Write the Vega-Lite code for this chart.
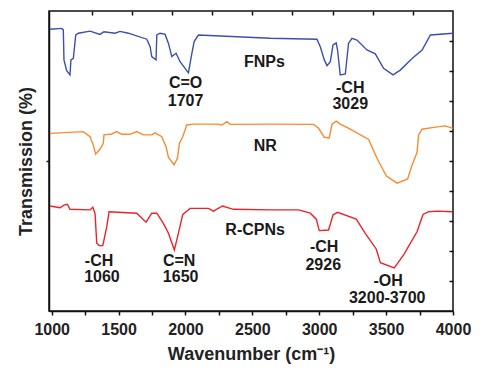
{
  "$schema": "https://vega.github.io/schema/vega-lite/v6.json",
  "width": 404,
  "height": 300,
  "autosize": "none",
  "padding": {"left": 49, "top": 11, "right": 47, "bottom": 69},
  "config": {
    "view": {"stroke": "#111", "strokeWidth": 1.5},
    "font": "Liberation Sans",
    "axis": {"grid": false, "domainColor": "#111", "domainWidth": 1.5, "tickColor": "#111", "tickWidth": 1.5, "labelColor": "#222", "titleColor": "#222", "labelFont": "Liberation Sans", "titleFont": "Liberation Sans"}
  },
  "datasets": {
    "spectra": [
      {"sample": "FNPs", "wavenumber": 987, "transmission": 9.39},
      {"sample": "FNPs", "wavenumber": 1075, "transmission": 9.42},
      {"sample": "FNPs", "wavenumber": 1087, "transmission": 9.37},
      {"sample": "FNPs", "wavenumber": 1092, "transmission": 8.37},
      {"sample": "FNPs", "wavenumber": 1112, "transmission": 8.01},
      {"sample": "FNPs", "wavenumber": 1137, "transmission": 7.87},
      {"sample": "FNPs", "wavenumber": 1144, "transmission": 8.37},
      {"sample": "FNPs", "wavenumber": 1162, "transmission": 8.42},
      {"sample": "FNPs", "wavenumber": 1180, "transmission": 9.2},
      {"sample": "FNPs", "wavenumber": 1199, "transmission": 9.26},
      {"sample": "FNPs", "wavenumber": 1287, "transmission": 9.33},
      {"sample": "FNPs", "wavenumber": 1361, "transmission": 9.22},
      {"sample": "FNPs", "wavenumber": 1391, "transmission": 9.31},
      {"sample": "FNPs", "wavenumber": 1474, "transmission": 9.26},
      {"sample": "FNPs", "wavenumber": 1511, "transmission": 9.32},
      {"sample": "FNPs", "wavenumber": 1573, "transmission": 9.26},
      {"sample": "FNPs", "wavenumber": 1711, "transmission": 9.06},
      {"sample": "FNPs", "wavenumber": 1736, "transmission": 8.81},
      {"sample": "FNPs", "wavenumber": 1748, "transmission": 8.48},
      {"sample": "FNPs", "wavenumber": 1780, "transmission": 8.37},
      {"sample": "FNPs", "wavenumber": 1786, "transmission": 9.2},
      {"sample": "FNPs", "wavenumber": 1810, "transmission": 9.26},
      {"sample": "FNPs", "wavenumber": 1848, "transmission": 9.22},
      {"sample": "FNPs", "wavenumber": 1873, "transmission": 8.92},
      {"sample": "FNPs", "wavenumber": 1898, "transmission": 8.48},
      {"sample": "FNPs", "wavenumber": 1930, "transmission": 8.59},
      {"sample": "FNPs", "wavenumber": 1960, "transmission": 8.31},
      {"sample": "FNPs", "wavenumber": 2022, "transmission": 7.94},
      {"sample": "FNPs", "wavenumber": 2048, "transmission": 8.59},
      {"sample": "FNPs", "wavenumber": 2065, "transmission": 8.98},
      {"sample": "FNPs", "wavenumber": 2097, "transmission": 9.2},
      {"sample": "FNPs", "wavenumber": 2634, "transmission": 9.09},
      {"sample": "FNPs", "wavenumber": 2983, "transmission": 9.06},
      {"sample": "FNPs", "wavenumber": 3008, "transmission": 8.81},
      {"sample": "FNPs", "wavenumber": 3038, "transmission": 8.37},
      {"sample": "FNPs", "wavenumber": 3058, "transmission": 8.18},
      {"sample": "FNPs", "wavenumber": 3083, "transmission": 8.31},
      {"sample": "FNPs", "wavenumber": 3103, "transmission": 8.87},
      {"sample": "FNPs", "wavenumber": 3127, "transmission": 8.94},
      {"sample": "FNPs", "wavenumber": 3137, "transmission": 8.7},
      {"sample": "FNPs", "wavenumber": 3157, "transmission": 7.87},
      {"sample": "FNPs", "wavenumber": 3195, "transmission": 7.9},
      {"sample": "FNPs", "wavenumber": 3219, "transmission": 8.92},
      {"sample": "FNPs", "wavenumber": 3245, "transmission": 9.09},
      {"sample": "FNPs", "wavenumber": 3282, "transmission": 9.03},
      {"sample": "FNPs", "wavenumber": 3357, "transmission": 8.7},
      {"sample": "FNPs", "wavenumber": 3419, "transmission": 8.57},
      {"sample": "FNPs", "wavenumber": 3481, "transmission": 8.09},
      {"sample": "FNPs", "wavenumber": 3552, "transmission": 7.87},
      {"sample": "FNPs", "wavenumber": 3606, "transmission": 8.03},
      {"sample": "FNPs", "wavenumber": 3694, "transmission": 8.42},
      {"sample": "FNPs", "wavenumber": 3769, "transmission": 8.7},
      {"sample": "FNPs", "wavenumber": 3831, "transmission": 9.2},
      {"sample": "FNPs", "wavenumber": 4000, "transmission": 9.26},
      {"sample": "NR", "wavenumber": 987, "transmission": 5.92},
      {"sample": "NR", "wavenumber": 1236, "transmission": 5.98},
      {"sample": "NR", "wavenumber": 1287, "transmission": 5.81},
      {"sample": "NR", "wavenumber": 1311, "transmission": 5.53},
      {"sample": "NR", "wavenumber": 1329, "transmission": 5.23},
      {"sample": "NR", "wavenumber": 1361, "transmission": 5.39},
      {"sample": "NR", "wavenumber": 1386, "transmission": 5.59},
      {"sample": "NR", "wavenumber": 1391, "transmission": 5.87},
      {"sample": "NR", "wavenumber": 1449, "transmission": 5.9},
      {"sample": "NR", "wavenumber": 1486, "transmission": 5.98},
      {"sample": "NR", "wavenumber": 1524, "transmission": 5.89},
      {"sample": "NR", "wavenumber": 1586, "transmission": 5.89},
      {"sample": "NR", "wavenumber": 1636, "transmission": 5.98},
      {"sample": "NR", "wavenumber": 1685, "transmission": 5.87},
      {"sample": "NR", "wavenumber": 1748, "transmission": 5.87},
      {"sample": "NR", "wavenumber": 1773, "transmission": 5.94},
      {"sample": "NR", "wavenumber": 1823, "transmission": 5.81},
      {"sample": "NR", "wavenumber": 1855, "transmission": 5.48},
      {"sample": "NR", "wavenumber": 1873, "transmission": 5.12},
      {"sample": "NR", "wavenumber": 1915, "transmission": 4.87},
      {"sample": "NR", "wavenumber": 1940, "transmission": 5.09},
      {"sample": "NR", "wavenumber": 1955, "transmission": 5.59},
      {"sample": "NR", "wavenumber": 1980, "transmission": 5.81},
      {"sample": "NR", "wavenumber": 2010, "transmission": 6.2},
      {"sample": "NR", "wavenumber": 2060, "transmission": 6.23},
      {"sample": "NR", "wavenumber": 2235, "transmission": 6.23},
      {"sample": "NR", "wavenumber": 2272, "transmission": 6.2},
      {"sample": "NR", "wavenumber": 2310, "transmission": 6.31},
      {"sample": "NR", "wavenumber": 2334, "transmission": 6.22},
      {"sample": "NR", "wavenumber": 2634, "transmission": 6.23},
      {"sample": "NR", "wavenumber": 2958, "transmission": 6.22},
      {"sample": "NR", "wavenumber": 2995, "transmission": 6.09},
      {"sample": "NR", "wavenumber": 3038, "transmission": 5.79},
      {"sample": "NR", "wavenumber": 3075, "transmission": 5.77},
      {"sample": "NR", "wavenumber": 3095, "transmission": 6.23},
      {"sample": "NR", "wavenumber": 3127, "transmission": 6.33},
      {"sample": "NR", "wavenumber": 3157, "transmission": 6.23},
      {"sample": "NR", "wavenumber": 3232, "transmission": 6.06},
      {"sample": "NR", "wavenumber": 3369, "transmission": 5.72},
      {"sample": "NR", "wavenumber": 3432, "transmission": 5.09},
      {"sample": "NR", "wavenumber": 3502, "transmission": 4.5},
      {"sample": "NR", "wavenumber": 3582, "transmission": 4.26},
      {"sample": "NR", "wavenumber": 3661, "transmission": 4.4},
      {"sample": "NR", "wavenumber": 3694, "transmission": 4.87},
      {"sample": "NR", "wavenumber": 3731, "transmission": 5.28},
      {"sample": "NR", "wavenumber": 3743, "transmission": 5.87},
      {"sample": "NR", "wavenumber": 3769, "transmission": 6.06},
      {"sample": "NR", "wavenumber": 3856, "transmission": 6.12},
      {"sample": "NR", "wavenumber": 3943, "transmission": 6.17},
      {"sample": "NR", "wavenumber": 4000, "transmission": 6.09},
      {"sample": "R-CPNs", "wavenumber": 987, "transmission": 3.5},
      {"sample": "R-CPNs", "wavenumber": 1062, "transmission": 3.44},
      {"sample": "R-CPNs", "wavenumber": 1092, "transmission": 3.53},
      {"sample": "R-CPNs", "wavenumber": 1117, "transmission": 3.56},
      {"sample": "R-CPNs", "wavenumber": 1137, "transmission": 3.39},
      {"sample": "R-CPNs", "wavenumber": 1287, "transmission": 3.37},
      {"sample": "R-CPNs", "wavenumber": 1307, "transmission": 3.46},
      {"sample": "R-CPNs", "wavenumber": 1324, "transmission": 3.26},
      {"sample": "R-CPNs", "wavenumber": 1337, "transmission": 2.26},
      {"sample": "R-CPNs", "wavenumber": 1356, "transmission": 2.18},
      {"sample": "R-CPNs", "wavenumber": 1382, "transmission": 2.18},
      {"sample": "R-CPNs", "wavenumber": 1412, "transmission": 2.81},
      {"sample": "R-CPNs", "wavenumber": 1429, "transmission": 3.31},
      {"sample": "R-CPNs", "wavenumber": 1636, "transmission": 3.26},
      {"sample": "R-CPNs", "wavenumber": 1706, "transmission": 2.96},
      {"sample": "R-CPNs", "wavenumber": 1748, "transmission": 3.26},
      {"sample": "R-CPNs", "wavenumber": 1786, "transmission": 3.26},
      {"sample": "R-CPNs", "wavenumber": 1835, "transmission": 2.92},
      {"sample": "R-CPNs", "wavenumber": 1873, "transmission": 2.59},
      {"sample": "R-CPNs", "wavenumber": 1917, "transmission": 2.03},
      {"sample": "R-CPNs", "wavenumber": 1947, "transmission": 2.59},
      {"sample": "R-CPNs", "wavenumber": 1980, "transmission": 3.22},
      {"sample": "R-CPNs", "wavenumber": 2035, "transmission": 3.42},
      {"sample": "R-CPNs", "wavenumber": 2172, "transmission": 3.42},
      {"sample": "R-CPNs", "wavenumber": 2209, "transmission": 3.33},
      {"sample": "R-CPNs", "wavenumber": 2277, "transmission": 3.5},
      {"sample": "R-CPNs", "wavenumber": 2359, "transmission": 3.39},
      {"sample": "R-CPNs", "wavenumber": 2634, "transmission": 3.37},
      {"sample": "R-CPNs", "wavenumber": 2845, "transmission": 3.37},
      {"sample": "R-CPNs", "wavenumber": 2933, "transmission": 3.26},
      {"sample": "R-CPNs", "wavenumber": 2978, "transmission": 3.06},
      {"sample": "R-CPNs", "wavenumber": 3000, "transmission": 2.68},
      {"sample": "R-CPNs", "wavenumber": 3070, "transmission": 2.7},
      {"sample": "R-CPNs", "wavenumber": 3103, "transmission": 3.2},
      {"sample": "R-CPNs", "wavenumber": 3137, "transmission": 3.29},
      {"sample": "R-CPNs", "wavenumber": 3277, "transmission": 3.06},
      {"sample": "R-CPNs", "wavenumber": 3344, "transmission": 2.59},
      {"sample": "R-CPNs", "wavenumber": 3427, "transmission": 2.06},
      {"sample": "R-CPNs", "wavenumber": 3457, "transmission": 1.61},
      {"sample": "R-CPNs", "wavenumber": 3561, "transmission": 1.44},
      {"sample": "R-CPNs", "wavenumber": 3631, "transmission": 1.87},
      {"sample": "R-CPNs", "wavenumber": 3731, "transmission": 2.64},
      {"sample": "R-CPNs", "wavenumber": 3776, "transmission": 3.22},
      {"sample": "R-CPNs", "wavenumber": 3818, "transmission": 3.31},
      {"sample": "R-CPNs", "wavenumber": 3881, "transmission": 3.33},
      {"sample": "R-CPNs", "wavenumber": 3993, "transmission": 3.31}
    ],
    "labels": [
      {"text": "FNPs", "x": 2590, "y": 8.14},
      {"text": "NR", "x": 2596, "y": 5.34},
      {"text": "R-CPNs", "x": 2521, "y": 2.53},
      {"text": "C=O", "x": 2001, "y": 7.42},
      {"text": "1707", "x": 2001, "y": 6.83},
      {"text": "-CH", "x": 3232, "y": 7.26},
      {"text": "3029", "x": 3232, "y": 6.73},
      {"text": "-CH", "x": 1354, "y": 1.5},
      {"text": "1060", "x": 1376, "y": 0.98},
      {"text": "C=N", "x": 1953, "y": 1.5},
      {"text": "1650", "x": 1964, "y": 0.98},
      {"text": "-CH", "x": 3037, "y": 1.96},
      {"text": "2926", "x": 3030, "y": 1.37},
      {"text": "-OH", "x": 3515, "y": 0.83},
      {"text": "3200-3700", "x": 3508, "y": 0.28}
    ]
  },
  "layer": [
    {
      "data": {"name": "spectra"},
      "mark": {"type": "line", "strokeWidth": 1.4},
      "encoding": {
        "x": {
          "field": "wavenumber", "type": "quantitative",
          "scale": {"domain": [980, 4000], "nice": false, "zero": false},
          "axis": {
            "orient": "bottom",
            "values": [1000, 1250, 1500, 1750, 2000, 2250, 2500, 2750, 3000, 3250, 3500, 3750, 4000],
            "format": "d",
            "labelExpr": "datum.value % 500 === 0 ? datum.label : ''",
            "labelOverlap": false, "labelFlush": false,
            "tickSize": 4, "labelPadding": 6,
            "labelFontSize": 16, "labelFontWeight": "bold",
            "title": "Wavenumber (cm⁻¹)", "titleFontSize": 18, "titleFontWeight": "bold", "titlePadding": 8
          }
        },
        "y": {
          "field": "transmission", "type": "quantitative",
          "scale": {"domain": [0, 10], "nice": false, "zero": false},
          "axis": {
            "orient": "left", "values": [5], "labels": false, "tickSize": 3,
            "title": "Transmission (%)", "titleFontSize": 18, "titleFontWeight": "bold", "titlePadding": 10
          }
        },
        "color": {
          "field": "sample", "type": "nominal",
          "scale": {"domain": ["FNPs", "NR", "R-CPNs"], "range": ["#3b50ac", "#f68b33", "#ec2227"]},
          "legend": null
        }
      }
    },
    {
      "data": {"name": "labels"},
      "mark": {"type": "text", "fontSize": 16, "fontWeight": "bold", "align": "center", "baseline": "alphabetic", "color": "#1a1a1a", "font": "Liberation Sans"},
      "encoding": {
        "x": {
          "field": "x", "type": "quantitative",
          "axis": {
            "orient": "top", "values": [1300, 1600, 1900, 2200, 2500, 2800, 3100, 3400, 3700],
            "labels": false, "domain": false, "tickSize": -4, "title": null
          }
        },
        "y": {
          "field": "y", "type": "quantitative",
          "axis": {
            "orient": "right", "values": [1, 2, 3, 4, 5, 6, 7, 8, 9],
            "labels": false, "domain": false, "tickSize": -4, "title": null
          }
        },
        "text": {"field": "text"}
      }
    }
  ],
  "resolve": {"axis": {"x": "independent", "y": "independent"}}
}
